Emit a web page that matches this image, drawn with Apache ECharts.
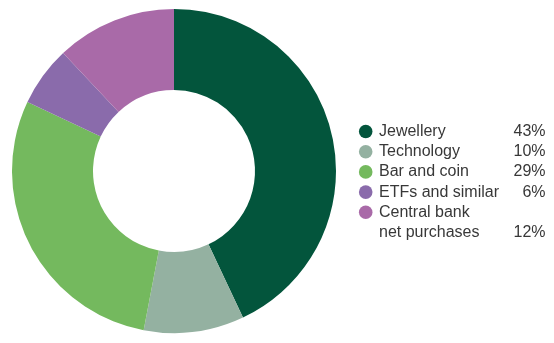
<!DOCTYPE html>
<html>
<head>
<meta charset="utf-8">
<script src="https://cdn.jsdelivr.net/npm/echarts@6/dist/echarts.min.js"></script>
<style>
html,body{margin:0;padding:0;background:#fff;}
#chart{width:554px;height:343px;}
</style>
</head>
<body>
<div id="chart"></div>
<script>
var categories = ['Jewellery', 'Technology', 'Bar and coin', 'ETFs and similar', 'Central bank\nnet purchases'];
var values = [43, 10, 29, 6, 12];
var percentLabels = ['43%', '10%', '29%', '6%', '12%'];
var colors = ['#03553c', '#94b1a1', '#74b95e', '#8a6bab', '#a96aa8'];

var chart = echarts.init(document.getElementById('chart'), null, {renderer: 'canvas'});

var rowStep = 20.2;
var firstBaseline = 137.2;
var graphics = [];
var line = 0;
categories.forEach(function (name, i) {
  var lines = name.split('\n');
  var base = firstBaseline + line * rowStep;
  var lastY = base + (lines.length - 1) * rowStep + 4.5;
  graphics.push({
    type: 'circle',
    shape: {cx: 365.7, cy: base - 5.7, r: 6.8},
    style: {fill: colors[i]}
  });
  graphics.push({
    type: 'text',
    x: 379,
    y: lastY,
    style: {
      text: name,
      fill: '#383838',
      font: '16px "Liberation Sans", Arial, sans-serif',
      align: 'left',
      verticalAlign: 'bottom',
      lineHeight: rowStep
    }
  });
  graphics.push({
    type: 'text',
    x: 545.5,
    y: lastY,
    style: {
      text: percentLabels[i],
      fill: '#383838',
      font: '16px "Liberation Sans", Arial, sans-serif',
      align: 'right',
      verticalAlign: 'bottom',
      lineHeight: rowStep
    }
  });
  line += lines.length;
});

chart.setOption({
  animation: false,
  backgroundColor: '#ffffff',
  series: [{
    type: 'pie',
    center: [174, 171],
    radius: [81, 162],
    startAngle: 90,
    clockwise: true,
    label: {show: false},
    labelLine: {show: false},
    emphasis: {disabled: true},
    data: categories.map(function (c, i) {
      return {name: c, value: values[i], itemStyle: {color: colors[i]}};
    })
  }],
  graphic: graphics
});
</script>
</body>
</html>
